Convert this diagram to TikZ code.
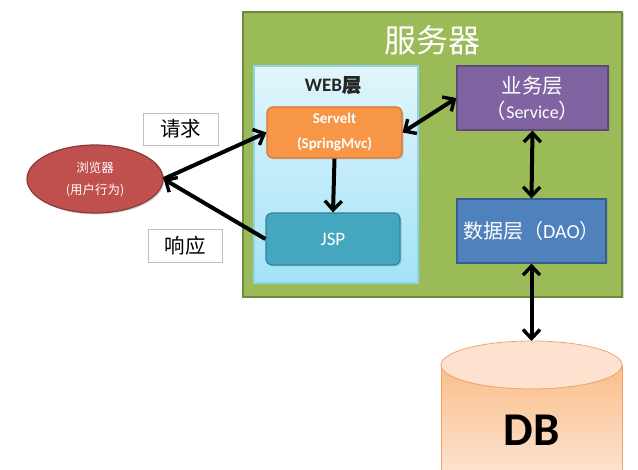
\documentclass[tikz,border=0pt]{standalone}
\usepackage{fontspec}
\setmainfont{Carlito}
\newfontfamily\cjk{Noto Sans CJK SC}
\newfontfamily\cjkb[FakeBold=2]{Noto Sans CJK SC}
\usetikzlibrary{arrows.meta,shapes.geometric,shadows}
\definecolor{grn}{HTML}{9BBB59}
\definecolor{grnb}{HTML}{71893F}
\definecolor{org}{HTML}{F79646}
\definecolor{orgb}{HTML}{D9752E}
\definecolor{tea}{HTML}{45A6C0}
\definecolor{teab}{HTML}{31859C}
\definecolor{pur}{HTML}{8064A2}
\definecolor{purb}{HTML}{5F497A}
\definecolor{blu}{HTML}{4F81BD}
\definecolor{blub}{HTML}{385D8A}
\definecolor{redf}{HTML}{C0504D}
\definecolor{redb}{HTML}{8C3836}
\definecolor{dbb}{HTML}{F0A26A}
\definecolor{dbtopc}{HTML}{FDE6D6}
\definecolor{dbbot}{HTML}{FBBF8C}
\definecolor{webtop}{HTML}{E2F5FB}
\definecolor{webbot}{HTML}{A2E3F8}
\definecolor{webb}{HTML}{8FD3EA}
\tikzset{
  box/.style={draw, line width=1.2pt, inner sep=0pt, align=center, text=white},
  shad/.style={drop shadow={opacity=0.3, shadow xshift=1.5pt, shadow yshift=-1.5pt}},
  lbl/.style={draw=black!25, fill=white, line width=0.8pt, inner sep=0pt, font=\cjk\fontsize{20.5}{22}\selectfont},
  conn/.style={line width=4pt, black},
  tip/.tip={Straight Barb[length=9pt,width=17pt,line width=3.4pt]},
}
\begin{document}
\begin{tikzpicture}[x=1pt,y=-1pt]
\useasboundingbox (0,0) rectangle (638,470);
\clip (0,0) rectangle (638,470);
% server
\node[box, fill=grn, draw=grnb, minimum width=379pt, minimum height=285pt, shad] (server) at (432.5,154.5) {};
\node[text=white, font=\cjk\fontsize{32}{34}\selectfont] (title) at (432,40) {服务器};
% web layer
\node[box, draw=webb, top color=webtop, bottom color=webbot, minimum width=164pt, minimum height=217pt] (web) at (336,174.5) {};
\node[font=\fontsize{19}{21}\selectfont\bfseries, text=black!85] (weblabel) at (333,85) {WEB{\cjkb 层}};
% servlet
\node[box, fill=org, draw=orgb, rounded corners=6pt, minimum width=135pt, minimum height=51pt, font=\fontsize{15}{25}\selectfont\bfseries, shad] (servlet) at (334.5,132.5) {Servelt\\(SpringMvc)};
% jsp
\node[box, fill=tea, draw=teab, rounded corners=6pt, minimum width=134pt, minimum height=52pt, font=\fontsize{19}{21}\selectfont, shad] (jsp) at (333,239) {JSP};
% service
\node[box, fill=pur, draw=purb, minimum width=151pt, minimum height=64pt, font=\fontsize{20.5}{25}\selectfont, shad] (svc) at (532.5,98) {{\cjk 业务层}\\{\cjk （}{\fontsize{18}{25}\selectfont Service}{\cjk ）}};
% dao
\node[box, fill=blu, draw=blub, minimum width=149pt, minimum height=64pt, font=\fontsize{20}{22}\selectfont, shad] (dao) at (531.5,231) {{\cjk 数据层（}DAO{\cjk ）}};
% browser
\node[ellipse, draw=redb, line width=1.2pt, fill=redf, minimum width=136pt, minimum height=68pt, inner sep=0pt, align=center, text=white, font=\cjk\fontsize{12.5}{22}\selectfont, shad] (browser) at (95,179) {浏览器\\(用户行为)};
% labels
\node[lbl, minimum width=75pt, minimum height=32pt] (req) at (180.5,129) {请求};
\node[lbl, minimum width=74pt, minimum height=33pt] (resp) at (185,245.5) {响应};
% DB cylinder (stepwise gradient)
\foreach \i in {0,...,29}{
  \pgfmathsetmacro{\pct}{100-\i*100/29}
  \fill[dbbot!\pct!dbtopc] (441,365+\i*4) rectangle (622,369.5+\i*4);
}
\draw[dbb, line width=0.8pt] (441,365) -- (441,480);
\draw[dbb, line width=0.8pt] (622,365) -- (622,480);
\fill[dbtopc!90!dbbot] (531.5,365) ellipse[x radius=90.1pt, y radius=23.6pt];
\draw[dbb, line width=0.8pt] (531.5,365) ellipse[x radius=90.5pt, y radius=24pt];
\coordinate (dbtop) at (531.5,341);
\node[font=\fontsize{47}{49}\selectfont\bfseries, text=black] (db) at (531.5,430) {DB};
% connectors
\draw[conn, -{tip}] (browser.east) -- (servlet.west);
\draw[conn, -{tip}] (jsp.west) -- (browser.east);
\draw[conn, {tip}-{tip}] (servlet.east) -- (svc.west);
\draw[conn, -{tip}] (servlet.south) -- (jsp.north);
\draw[conn, {tip}-{tip}] (svc.south) -- (dao.north);
\draw[conn, {tip}-{tip}] (dao.south) -- (dbtop);
\end{tikzpicture}
\end{document}
